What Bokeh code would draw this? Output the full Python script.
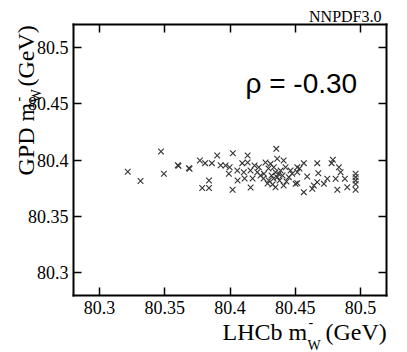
import math
from bokeh.plotting import figure
from bokeh.models import Range1d, LinearAxis, Label, FixedTicker, ColumnDataSource
from bokeh.embed import file_html
from bokeh.resources import INLINE

# data: LHCb m_W^- vs GPD m_W^- (GeV)
lhcb_mw = [80.3216, 80.3314, 80.3471, 80.3493, 80.3600, 80.3605, 80.3685, 80.3690,
           80.3769, 80.3809, 80.3861, 80.3902, 80.3928, 80.3966, 80.4022, 80.3997,
           80.3991, 80.4056, 80.4106, 80.4094, 80.4135, 80.3839, 80.3787, 80.3839,
           80.4020, 80.4058, 80.4112, 80.4158, 80.4355, 80.4362, 80.4221, 80.4209,
           80.4234, 80.4260, 80.4298, 80.4311, 80.4336, 80.4349, 80.4375, 80.4362,
           80.4349, 80.4426, 80.4451, 80.4477, 80.4503, 80.4516, 80.4566, 80.4533,
           80.4516, 80.4669, 80.4677, 80.4779, 80.4789, 80.4835, 80.4848, 80.4592,
           80.4746, 80.4810, 80.4881, 80.4963, 80.4963, 80.4963, 80.4963, 80.4669,
           80.4643, 80.4720, 80.4516, 80.4566, 80.4823, 80.4899, 80.4963, 80.4631,
           80.4272, 80.4295, 80.4318, 80.4334, 80.4388, 80.4403, 80.4380, 80.4288,
           80.4257, 80.4411, 80.4188, 80.4157, 80.4433, 80.4326, 80.4464, 80.4411,
           80.4135, 80.4173]
gpd_mw = [80.3896, 80.3814, 80.4075, 80.3878, 80.3953, 80.3948, 80.3928, 80.3922,
          80.3996, 80.3972, 80.3972, 80.4040, 80.3953, 80.3951, 80.4060, 80.3936,
          80.3878, 80.3907, 80.3892, 80.3972, 80.4040, 80.3818, 80.3752, 80.3752,
          80.3736, 80.3818, 80.3836, 80.3756, 80.4099, 80.4011, 80.3936, 80.3892,
          80.3863, 80.3878, 80.3818, 80.3966, 80.3936, 80.3892, 80.3878, 80.3848,
          80.3759, 80.3936, 80.3848, 80.3878, 80.3789, 80.3936, 80.3972, 80.3925,
          80.3892, 80.3972, 80.3883, 80.3972, 80.4002, 80.3936, 80.3892, 80.3854,
          80.3834, 80.3834, 80.3834, 80.3878, 80.3848, 80.3818, 80.3788, 80.3804,
          80.3774, 80.3789, 80.3795, 80.3715, 80.3736, 80.3759, 80.3736, 80.3745,
          80.3978, 80.3925, 80.3863, 80.3836, 80.3907, 80.3863, 80.3818, 80.3792,
          80.3836, 80.3996, 80.3951, 80.3907, 80.3810, 80.3783, 80.3907, 80.3774,
          80.3978, 80.3836]

x_ticks = [80.3, 80.35, 80.4, 80.45, 80.5]
y_ticks = [80.3, 80.35, 80.4, 80.45, 80.5]
x_lo, x_hi = 80.28, 80.52
y_lo, y_hi = 80.28, 80.52
rho_text = "\u03c1 = -0.30"
tag_text = "NNPDF3.0"
x_title = ["LHCb m", "W", "-", "(GeV)"]
y_title = ["GPD m", "W", "-", "(GeV)"]

SERIF = "Liberation Serif"
SANS = "Liberation Sans"

# canvas / visible box geometry (pixels)
W, H = 407, 352
BL, BT, BR, BB = 73, 24, 386, 295
sxp = (x_hi - x_lo) / (BR - BL)
syp = (y_hi - y_lo) / (BB - BT)
xr = Range1d(x_lo - BL * sxp, x_hi + (W - BR) * sxp)
yr = Range1d(y_lo - (H - BB) * syp, y_hi + BT * syp)

def dx(px):
    return xr.start + px * sxp

def dy(py):
    return yr.end - py * syp

p = figure(width=W, height=H, output_backend="svg", toolbar_location=None,
           x_range=xr, y_range=yr, min_border=0)
p.background_fill_color = "white"
p.border_fill_color = "white"
p.xgrid.visible = False
p.ygrid.visible = False
p.outline_line_color = None

def style_axis(ax, ticks, loc, bounds, show_labels):
    ax.ticker = FixedTicker(ticks=ticks)
    ax.fixed_location = loc
    ax.bounds = bounds
    ax.major_tick_in = 8
    ax.major_tick_out = 0
    ax.minor_tick_in = 0
    ax.minor_tick_out = 0
    ax.major_tick_line_color = "black"
    ax.major_tick_line_width = 1.5
    ax.axis_line_color = "black"
    ax.axis_line_width = 2
    ax.axis_line_cap = "square"
    if show_labels:
        ax.major_label_text_font = SERIF
        ax.major_label_text_font_style = "normal"
        ax.major_label_text_font_size = "18px"
        ax.major_label_text_color = "black"
    else:
        ax.major_label_text_color = None

style_axis(p.xaxis[0], x_ticks, y_lo, (x_lo, x_hi), True)
style_axis(p.yaxis[0], y_ticks, x_lo, (y_lo, y_hi), True)
p.xaxis[0].major_label_standoff = 5
p.yaxis[0].major_label_standoff = 5

top = LinearAxis()
right = LinearAxis()
style_axis(top, x_ticks, y_hi, (x_lo, x_hi), False)
style_axis(right, y_ticks, x_hi, (y_lo, y_hi), False)
p.add_layout(top, "above")
p.add_layout(right, "right")

src = ColumnDataSource(dict(x=lhcb_mw, y=gpd_mw))
p.scatter("x", "y", source=src, marker="x", size=8, line_color="#333333", line_width=1.1)

SHIFT = 0.33  # em offset of the rendered baseline

def lab(text, px, py, size, font=SERIF, angle=0.0, align="left"):
    fs = float(size.replace("px", ""))
    if angle == 0.0:
        py = py - SHIFT * fs
    else:
        px = px - SHIFT * fs
    p.add_layout(Label(x=dx(px), y=dy(py), text=text, text_font=font, text_font_size=size,
                       text_color="black", text_baseline="alphabetic", text_align=align,
                       angle=angle))

lab(rho_text, 245, 92, "28px", SANS)
lab(tag_text, 381, 21, "16px", align="right")

# x axis title: LHCb m_W^- (GeV)
lab(x_title[0], 222, 339, "24px")
lab(x_title[1], 307, 350, "14px")
lab(x_title[2], 308, 326, "14px")
lab(x_title[3], 325, 339, "24px")

# y axis title: GPD m_W^- (GeV)
a = math.pi / 2
lab(y_title[0], 33, 175, "24px", angle=a)
lab(y_title[1], 41, 102, "14px", angle=a)
lab(y_title[2], 22, 101, "14px", angle=a)
lab(y_title[3], 33, 86, "24px", angle=a)

open("out.html", "w").write(file_html(p, INLINE))
